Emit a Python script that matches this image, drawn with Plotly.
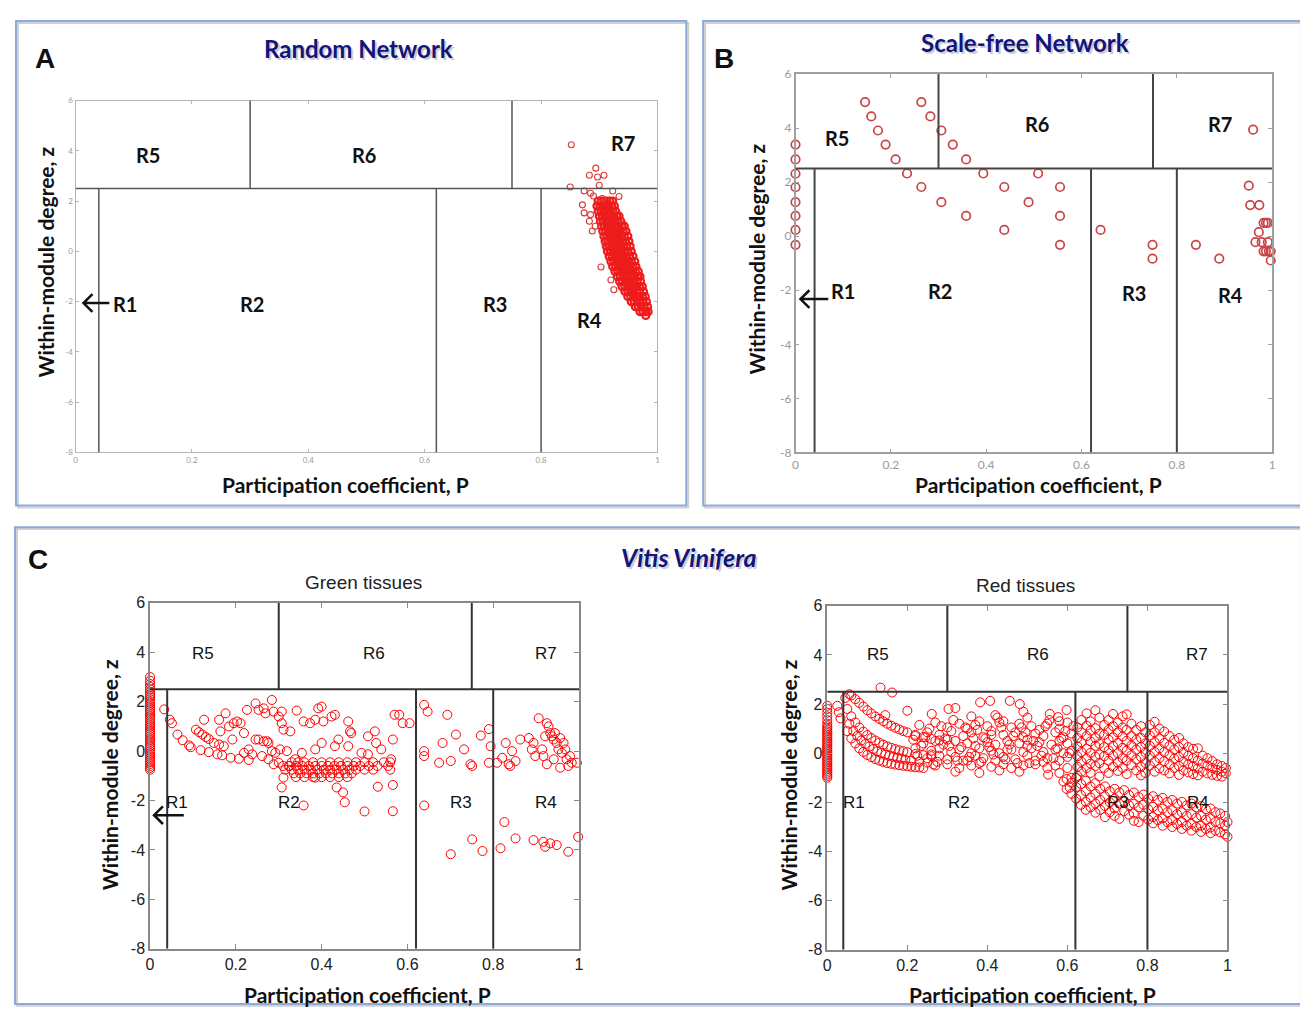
import plotly.graph_objects as go

OFF = 8                      # default page margin of the html body
FW, FH = 1308 - 2 * OFF, 1015 - 2 * OFF

# ---------------- DATA ----------------
tick_vals_x = [0, 0.2, 0.4, 0.6, 0.8, 1]
tick_text_x = ["0", "0.2", "0.4", "0.6", "0.8", "1"]
tick_vals_y = [-8, -6, -4, -2, 0, 2, 4, 6]
tick_text_y = ["-8", "-6", "-4", "-2", "0", "2", "4", "6"]

# role boundaries
z_hub = 2.5
p_nonhub = [0.04, 0.62, 0.8]
p_hub = [0.3, 0.75]

# Panel A: random network (dense band rows: z level, P values)
a_band = [
    (2.0, [0.898, 0.903, 0.908, 0.913, 0.918, 0.923]),
    (1.8, [0.896, 0.901, 0.906, 0.911, 0.916, 0.921, 0.926]),
    (1.6, [0.898, 0.903, 0.908, 0.913, 0.918, 0.923, 0.928]),
    (1.4, [0.9, 0.905, 0.91, 0.915, 0.92, 0.925, 0.93, 0.934]),
    (1.2, [0.902, 0.907, 0.912, 0.917, 0.922, 0.927, 0.932, 0.937]),
    (1.0, [0.904, 0.909, 0.914, 0.919, 0.924, 0.929, 0.934, 0.939, 0.943]),
    (0.8, [0.906, 0.911, 0.916, 0.921, 0.926, 0.931, 0.936, 0.941, 0.946]),
    (0.6, [0.908, 0.913, 0.918, 0.923, 0.928, 0.933, 0.938, 0.943, 0.949]),
    (0.4, [0.91, 0.915, 0.92, 0.925, 0.93, 0.935, 0.94, 0.945, 0.951]),
    (0.2, [0.912, 0.917, 0.922, 0.927, 0.932, 0.937, 0.942, 0.947, 0.953]),
    (0.0, [0.914, 0.919, 0.924, 0.929, 0.934, 0.939, 0.944, 0.949, 0.955]),
    (-0.2, [0.917, 0.922, 0.927, 0.932, 0.937, 0.942, 0.947, 0.952, 0.958]),
    (-0.4, [0.92, 0.925, 0.93, 0.935, 0.94, 0.945, 0.95, 0.955, 0.961]),
    (-0.6, [0.923, 0.928, 0.933, 0.938, 0.943, 0.948, 0.953, 0.958, 0.963]),
    (-0.8, [0.927, 0.932, 0.937, 0.942, 0.947, 0.952, 0.957, 0.962, 0.967]),
    (-1.0, [0.931, 0.936, 0.941, 0.946, 0.951, 0.956, 0.961, 0.966, 0.97]),
    (-1.2, [0.935, 0.94, 0.945, 0.95, 0.955, 0.96, 0.965, 0.971]),
    (-1.4, [0.939, 0.944, 0.949, 0.954, 0.959, 0.964, 0.969, 0.974]),
    (-1.6, [0.944, 0.949, 0.954, 0.959, 0.964, 0.969, 0.976]),
    (-1.8, [0.949, 0.954, 0.959, 0.964, 0.969, 0.974, 0.979]),
    (-2.0, [0.955, 0.96, 0.965, 0.97, 0.975, 0.981]),
    (-2.2, [0.962, 0.967, 0.972, 0.977, 0.983]),
    (-2.4, [0.97, 0.975, 0.98, 0.984]),
    (-2.55, [0.98]),
]
a_out_p = [0.852, 0.894, 0.883, 0.908, 0.897, 0.85, 0.874, 0.885, 0.9, 0.923, 0.934,
           0.871, 0.874, 0.885, 0.883, 0.888, 0.903, 0.92, 0.925, 0.89, 0.905, 0.893, 0.91]
a_out_z = [4.24, 3.31, 3.03, 3.03, 2.96, 2.56, 2.4, 2.31, 2.63, 2.4, 2.18,
           1.85, 1.53, 1.46, 1.2, 0.81, -0.62, -1.14, -1.53, 2.2, 2.1, 1.0, 0.3]

# Panel B: scale-free network
b_p = [0, 0, 0, 0, 0, 0, 0, 0,
       0.146, 0.159, 0.173, 0.189, 0.21, 0.234,
       0.264, 0.283, 0.306, 0.33, 0.358, 0.394,
       0.264, 0.306, 0.358, 0.438, 0.438, 0.489, 0.509, 0.555, 0.555, 0.555,
       0.64, 0.749, 0.749, 0.84, 0.889,
       0.96, 0.951, 0.954, 0.973, 0.982, 0.987, 0.991, 0.972, 0.965, 0.978, 0.991,
       0.982, 0.987, 0.993, 0.997, 0.997]
b_z = [3.39, 2.84, 2.31, 1.81, 1.26, 0.75, 0.23, -0.32,
       4.96, 4.43, 3.91, 3.39, 2.84, 2.32,
       4.96, 4.43, 3.91, 3.39, 2.84, 2.32,
       1.82, 1.26, 0.75, 1.82, 0.23, 1.26, 2.32, 1.82, 0.75, -0.32,
       0.23, -0.32, -0.83, -0.32, -0.83,
       3.94, 1.87, 1.15, 1.15, 0.49, 0.49, 0.49, 0.15, -0.22, -0.22, -0.22,
       -0.56, -0.56, -0.56, -0.56, -0.9]

# Panel C, green tissues
g_stack_z = [-0.75, -0.68, -0.6, -0.52, -0.45, -0.38, -0.3, -0.22, -0.15, -0.08, 0, 0.08, 0.15,
             0.22, 0.3, 0.38, 0.45, 0.52, 0.6, 0.68, 0.75, 0.82, 0.9, 0.98, 1.05, 1.12, 1.2, 1.28,
             1.35, 1.42, 1.5, 1.58, 1.65, 1.72, 1.8, 1.88, 1.95, 2.02, 2.1, 2.18, 2.25, 2.32, 2.4,
             2.5, 2.6, 2.72, 2.85, 3.0]
g_p = [0.033, 0.046, 0.051, 0.064, 0.076, 0.091, 0.095, 0.118, 0.137, 0.157, 0.168, 0.188, 0.207, 0.23,
       0.107, 0.114, 0.122, 0.13, 0.137, 0.149, 0.161, 0.126, 0.161, 0.176, 0.164, 0.184, 0.195, 0.203,
       0.211, 0.219, 0.226, 0.246, 0.253, 0.265, 0.269, 0.284, 0.288, 0.3, 0.307, 0.307, 0.311, 0.327,
       0.342, 0.358, 0.373, 0.385, 0.392, 0.4, 0.404, 0.423, 0.431, 0.462, 0.466, 0.469, 0.508, 0.524,
       0.527, 0.566, 0.57, 0.581, 0.589, 0.605,
       0.172, 0.192, 0.219, 0.23, 0.238, 0.246, 0.253, 0.265, 0.273, 0.276, 0.284, 0.292, 0.303, 0.319,
       0.261, 0.276, 0.288, 0.3, 0.323, 0.338, 0.354, 0.385, 0.4, 0.431, 0.439, 0.462, 0.493, 0.508,
       0.539, 0.562,
       0.307, 0.311, 0.358, 0.435, 0.45, 0.454, 0.5, 0.531, 0.566, 0.566, 0.385,
       0.639, 0.647, 0.639, 0.639, 0.674, 0.682, 0.693, 0.701, 0.713, 0.732, 0.747, 0.751, 0.771,
       0.79, 0.794, 0.79, 0.639, 0.701, 0.751, 0.775,
       0.809, 0.821, 0.829, 0.836, 0.84, 0.844, 0.852, 0.863, 0.883, 0.89, 0.894, 0.898, 0.906,
       0.914, 0.917, 0.921, 0.925, 0.929, 0.933, 0.937, 0.941, 0.944, 0.948, 0.952, 0.956, 0.96,
       0.964, 0.968, 0.971, 0.975, 0.979, 0.983, 0.995, 0.925, 0.941, 0.956,
       0.817, 0.826, 0.852, 0.894, 0.917, 0.921, 0.933, 0.948, 0.975, 0.998]
g_z = [1.69, 1.27, 1.13, 0.67, 0.44, 0.23, 0.16, 0.04, -0.04, -0.13, -0.17, -0.27, -0.31, -0.36,
       0.87, 0.77, 0.67, 0.57, 0.49, 0.33, 0.27, 1.27, 1.27, 1.53, 0.8, 1.0, 1.13, 1.2,
       1.13, 0.73, 1.67, 1.93, 1.67, 1.73, 1.53, 2.07, 1.6, 1.4, 1.6, 1.13, 0.87, 0.8,
       1.64, 1.2, 1.13, 1.27, 1.73, 1.8, 1.2, 1.4, 1.47, 1.2, 0.8, 0.73, 0.6, 0.8,
       0.33, 0.47, 1.47, 1.47, 1.13, 1.13,
       0.2, 0.47, -0.07, 0.07, -0.13, 0.47, 0.47, 0.4, 0.4, 0.33, 0.0, -0.07, 0.07, 0.0,
       -0.2, -0.33, -0.53, -0.47, -0.6, -0.33, -0.07, 0.07, 0.33, 0.2, 0.47, 0.2, -0.07, -0.13,
       0.07, -0.33,
       -1.47, -1.07, -2.2, -1.47, -1.67, -2.07, -2.44, -1.44, -1.37, -2.43, -1.07,
       1.87, 1.6, 0.0, -0.2, -0.47, 0.33, 1.47, -0.4, 0.67, 0.07, -0.53, -0.6, 0.63,
       0.89, 0.2, -0.47, -2.2, -4.17, -3.57, -4.04,
       -0.47, -0.27, 0.33, -0.53, -0.6, 0.0, -0.4, 0.47, 0.53, 0.07, 0.33, -0.2, 1.33,
       0.07, -0.2, 0.6, 1.13, 1.0, 0.73, 0.6, 0.47, 0.73, 0.33, 0.07, 0.53, -0.07,
       0.33, 0.07, -0.33, -0.6, -0.2, -0.47, -0.47, -0.53, -0.33, -0.67,
       -3.93, -2.87, -3.53, -3.6, -3.67, -3.87, -3.73, -3.8, -4.07, -3.47]
g_band = [
    (-0.45, [0.33, 0.345, 0.36, 0.38, 0.40, 0.42, 0.44, 0.46, 0.48, 0.50, 0.52, 0.545, 0.56]),
    (-0.6, [0.31, 0.325, 0.34, 0.355, 0.37, 0.385, 0.4, 0.415, 0.43, 0.445, 0.46, 0.475, 0.49, 0.51, 0.53, 0.555]),
    (-0.75, [0.315, 0.33, 0.345, 0.36, 0.375, 0.39, 0.405, 0.42, 0.435, 0.45, 0.465, 0.48, 0.5, 0.52, 0.56]),
    (-0.9, [0.335, 0.35, 0.365, 0.38, 0.395, 0.41, 0.425, 0.44, 0.455, 0.47]),
    (-1.05, [0.34, 0.36, 0.38, 0.4, 0.42, 0.44, 0.46]),
]

# Panel C, red tissues
r_stack_z = [-1.0, -0.93, -0.86, -0.79, -0.72, -0.65, -0.58, -0.51, -0.44, -0.37, -0.3, -0.23, -0.16,
             -0.09, -0.02, 0.05, 0.12, 0.19, 0.26, 0.33, 0.4, 0.47, 0.54, 0.61, 0.68, 0.75, 0.82,
             0.89, 0.96, 1.03, 1.1, 1.2, 1.35, 1.5, 1.65, 1.8, 1.93]
r_c1_p = [0.05, 0.06, 0.07, 0.08, 0.09, 0.10, 0.11, 0.12, 0.13, 0.14, 0.15, 0.16, 0.17, 0.18, 0.19, 0.2, 0.21, 0.22, 0.23, 0.24]
r_c1_z = [0.9, 0.6, 0.4, 0.2, 0.05, -0.07, -0.16, -0.24, -0.3, -0.35, -0.4, -0.43, -0.46, -0.49, -0.51, -0.53, -0.55, -0.57, -0.58, -0.6]
r_c2_p = [0.05, 0.06, 0.07, 0.08, 0.09, 0.1, 0.11, 0.12, 0.13, 0.14, 0.15, 0.16, 0.17, 0.18, 0.19, 0.2, 0.22, 0.24, 0.26]
r_c2_z = [1.8, 1.5, 1.25, 1.05, 0.88, 0.74, 0.62, 0.52, 0.43, 0.35, 0.28, 0.22, 0.17, 0.12, 0.08, 0.04, -0.03, -0.08, -0.12]
r_c3_p = [0.06, 0.07, 0.08, 0.09, 0.1, 0.11, 0.12, 0.13, 0.14, 0.15, 0.16, 0.17, 0.18, 0.19, 0.2, 0.22, 0.24, 0.26, 0.28]
r_c3_z = [2.35, 2.2, 2.05, 1.9, 1.75, 1.62, 1.5, 1.4, 1.3, 1.2, 1.12, 1.04, 0.97, 0.9, 0.85, 0.75, 0.66, 0.58, 0.52]
r_c4_p = [0.055, 0.065, 0.075, 0.085, 0.095, 0.105, 0.115, 0.125, 0.135, 0.145, 0.155, 0.165, 0.175, 0.185, 0.195, 0.21, 0.23, 0.25]
r_c4_z = [1.2, 0.9, 0.7, 0.52, 0.38, 0.27, 0.17, 0.08, 0.01, -0.05, -0.1, -0.15, -0.19, -0.22, -0.26, -0.3, -0.35, -0.38]
r_extra_p = [0.025, 0.029, 0.033, 0.045, 0.055, 0.133, 0.162, 0.2, 0.145]
r_extra_z = [1.93, 1.67, 1.42, 2.25, 2.4, 2.67, 2.47, 1.73, 1.55]
r_cloud_p = [0.261, 0.303, 0.32, 0.382, 0.407, 0.456, 0.481, 0.49, 0.556, 0.577, 0.598, 0.36, 0.42, 0.44, 0.5,
             0.23, 0.27, 0.3, 0.33, 0.35, 0.38, 0.4, 0.43, 0.46, 0.48, 0.51, 0.53, 0.55, 0.58, 0.6, 0.615,
             0.22, 0.25, 0.28, 0.31, 0.34, 0.36, 0.39, 0.41, 0.44, 0.47, 0.49, 0.52, 0.54, 0.57, 0.59, 0.61,
             0.24, 0.27, 0.29, 0.32, 0.35, 0.37, 0.4, 0.42, 0.45, 0.48, 0.5, 0.53, 0.56, 0.58, 0.6,
             0.26, 0.28, 0.31, 0.33, 0.36, 0.38, 0.41, 0.43, 0.46, 0.49, 0.51, 0.54, 0.57, 0.59, 0.61,
             0.25, 0.28, 0.3, 0.32, 0.35, 0.37, 0.39, 0.42, 0.44, 0.47, 0.5, 0.52, 0.55, 0.58, 0.6,
             0.27, 0.3, 0.33, 0.36, 0.38, 0.41, 0.44, 0.46, 0.49, 0.52, 0.55, 0.57, 0.6,
             0.32, 0.38, 0.43, 0.48, 0.552, 0.58, 0.606, 0.61, 0.59]
r_cloud_z = [1.6, 1.8, 1.84, 2.07, 2.13, 2.13, 2.0, 1.69, 1.6, 1.47, 1.76, 1.5, 1.55, 1.3, 1.45,
             1.15, 1.25, 1.05, 1.2, 1.0, 1.3, 1.1, 1.25, 1.05, 1.2, 1.1, 0.95, 1.2, 1.0, 1.25, 1.1,
             0.7, 0.85, 0.75, 0.9, 0.7, 0.85, 0.65, 0.9, 0.75, 0.85, 0.65, 0.8, 0.7, 0.85, 0.65, 0.8,
             0.4, 0.5, 0.35, 0.5, 0.4, 0.3, 0.45, 0.35, 0.5, 0.4, 0.3, 0.45, 0.35, 0.5, 0.4,
             0.1, 0.2, 0.05, 0.15, 0.0, 0.2, 0.1, 0.0, 0.15, 0.05, 0.2, 0.05, 0.15, 0.0, 0.1,
             -0.2, -0.1, -0.25, -0.15, -0.3, -0.1, -0.2, -0.3, -0.15, -0.25, -0.1, -0.3, -0.2, -0.3, -0.15,
             -0.5, -0.45, -0.6, -0.5, -0.4, -0.55, -0.45, -0.6, -0.5, -0.45, -0.6, -0.5, -0.6,
             -0.75, -0.8, -0.7, -0.75, -0.87, -0.8, -1.4, -1.0, -1.15]
r_cloud2_p = [0.215, 0.235, 0.255, 0.275, 0.295, 0.315, 0.335, 0.355, 0.375, 0.395, 0.415, 0.435, 0.455,
              0.475, 0.495, 0.515, 0.535, 0.555, 0.575, 0.595,
              0.225, 0.245, 0.265, 0.285, 0.305, 0.325, 0.345, 0.365, 0.385, 0.405, 0.425, 0.445, 0.465,
              0.485, 0.505, 0.525, 0.545, 0.565, 0.585, 0.605,
              0.22, 0.26, 0.3, 0.34, 0.37, 0.41, 0.45, 0.5, 0.54, 0.58]
r_cloud2_z = [0.55, 0.3, 1.0, -0.35, 0.6, 1.35, 0.25, -0.15, 0.95, 0.6, -0.05, 1.05, 0.35,
              -0.4, 0.85, 0.5, -0.1, 1.35, 0.2, 0.9,
              -0.1, 0.65, -0.45, 1.1, 0.3, -0.3, 1.05, 0.6, -0.35, 0.25, 1.45, -0.25, 0.7,
              1.05, -0.4, 0.3, 1.1, -0.2, 0.6, 0.0,
              0.2, -0.05, 0.55, -0.3, 1.15, 0.75, 0.15, 0.55, -0.35, 1.3]
r_upper_cols = [
    (0.625, [1.05, 0.62, 0.28, -0.12, -0.55, -0.92]),
    (0.635, [1.35, 0.85, 0.45, 0.05, -0.35, -0.75]),
    (0.648, [1.62, 1.12, 0.7, 0.18, -0.22, -0.6]),
    (0.658, [1.3, 0.92, 0.48, 0.02, -0.42, -0.8]),
    (0.67, [1.75, 1.02, 0.62, 0.3, -0.15, -0.52]),
    (0.68, [1.45, 0.8, 0.38, -0.05, -0.4, -0.95]),
    (0.692, [1.15, 0.75, 0.25, -0.12, -0.6]),
    (0.703, [1.35, 0.95, 0.55, 0.12, -0.3, -0.8]),
    (0.714, [1.6, 1.1, 0.65, 0.3, -0.1, -0.55]),
    (0.726, [1.25, 0.85, 0.42, 0.0, -0.38, -0.72]),
    (0.738, [1.5, 1.05, 0.68, 0.22, -0.2, -0.6]),
    (0.748, [1.58, 0.95, 0.5, 0.1, -0.3, -0.85]),
    (0.76, [1.2, 0.7, 0.32, -0.08, -0.48]),
    (0.772, [0.95, 0.55, 0.15, -0.25, -0.7]),
    (0.784, [1.1, 0.62, 0.25, -0.15, -0.55, -0.9]),
    (0.795, [0.85, 0.4, 0.02, -0.4, -0.8]),
    (0.806, [1.15, 0.72, 0.3, -0.1, -0.5]),
    (0.818, [1.28, 0.85, 0.45, 0.05, -0.35, -0.75]),
    (0.83, [1.0, 0.6, 0.2, -0.2, -0.62]),
    (0.842, [0.88, 0.42, 0.05, -0.32, -0.7]),
    (0.855, [0.7, 0.3, -0.08, -0.45, -0.82]),
    (0.867, [0.55, 0.15, -0.22, -0.6]),
    (0.879, [0.62, 0.25, -0.15, -0.52, -0.88]),
    (0.89, [0.4, 0.02, -0.35, -0.7]),
    (0.902, [0.25, -0.1, -0.45, -0.78]),
    (0.914, [0.18, -0.2, -0.52, -0.85]),
    (0.926, [0.2, -0.3, -0.62, -0.9]),
    (0.938, [-0.1, -0.42, -0.75]),
    (0.95, [-0.2, -0.5, -0.82]),
    (0.962, [-0.32, -0.6, -0.88]),
    (0.974, [-0.45, -0.68, -0.92]),
    (0.986, [-0.52, -0.75, -0.95]),
    (0.996, [-0.6, -0.82]),
]
r_lower_cols = [
    (0.598, [-1.05, -1.45]),
    (0.61, [-1.2, -1.65]),
    (0.622, [-1.0, -1.38, -1.85]),
    (0.634, [-1.25, -1.7, -2.1]),
    (0.646, [-1.12, -1.55, -1.98, -2.3]),
    (0.658, [-1.35, -1.8, -2.2]),
    (0.67, [-1.22, -1.65, -2.05, -2.42]),
    (0.682, [-1.45, -1.9, -2.3]),
    (0.694, [-1.35, -1.75, -2.15, -2.6]),
    (0.706, [-1.55, -2.0, -2.4]),
    (0.718, [-1.45, -1.85, -2.25, -2.55]),
    (0.73, [-1.6, -2.05, -2.67]),
    (0.742, [-1.5, -1.95, -2.35]),
    (0.754, [-1.7, -2.12, -2.5]),
    (0.766, [-1.6, -2.05, -2.45, -2.75]),
    (0.778, [-1.78, -2.2, -2.8]),
    (0.79, [-1.68, -2.1, -2.55]),
    (0.802, [-1.85, -2.28, -2.7]),
    (0.814, [-1.75, -2.18, -2.6, -2.85]),
    (0.826, [-1.9, -2.32, -2.72]),
    (0.838, [-1.82, -2.25, -2.65, -2.95]),
    (0.85, [-1.98, -2.4, -2.8]),
    (0.862, [-1.9, -2.32, -2.72, -3.0]),
    (0.874, [-2.05, -2.48, -2.88]),
    (0.886, [-1.98, -2.4, -2.8, -3.08]),
    (0.898, [-2.12, -2.55, -2.95]),
    (0.91, [-2.05, -2.48, -2.88, -3.15]),
    (0.922, [-2.2, -2.62, -3.0]),
    (0.934, [-2.15, -2.55, -2.95, -3.2]),
    (0.946, [-2.28, -2.7, -3.08]),
    (0.958, [-2.25, -2.65, -3.02, -3.25]),
    (0.97, [-2.4, -2.8, -3.15]),
    (0.982, [-2.45, -2.85, -3.22]),
    (0.994, [-2.55, -2.95, -3.3]),
    (1.0, [-2.8, -3.4]),
]

# region label positions (P, z) per panel
reg_names = ["R1", "R2", "R3", "R4", "R5", "R6", "R7"]
a_lab_p = [0.085, 0.303, 0.721, 0.884, 0.125, 0.496, 0.94]
a_lab_z = [-2.1, -2.1, -2.1, -2.72, 3.85, 3.85, 4.32]
b_lab_p = [0.1, 0.304, 0.71, 0.9125, 0.0875, 0.506, 0.89]
b_lab_z = [-2.04, -2.04, -2.1, -2.18, 3.64, 4.15, 4.15]
g_lab_p = [0.063, 0.325, 0.724, 0.923, 0.123, 0.522, 0.923]
g_lab_z = [-2.08, -2.08, -2.08, -2.08, 3.96, 3.96, 3.96]
r_lab_p = [0.067, 0.328, 0.727, 0.926, 0.127, 0.526, 0.923]
r_lab_z = [-2.0, -2.0, -2.0, -2.0, 4.0, 4.0, 4.0]

# ---------------- BUILD ----------------
def flat_rows(rows):
    ps, zs = [], []
    for z, plist in rows:
        for p in plist:
            ps.append(p); zs.append(z)
    return ps, zs

def flat_cols(cols):
    ps, zs = [], []
    for p, zlist in cols:
        for z in zlist:
            ps.append(p); zs.append(z)
    return ps, zs

ab_p, ab_z = flat_rows(a_band)

gp_b, gz_b = flat_rows(g_band)
gp = [0] * len(g_stack_z) + g_p + gp_b
gz = g_stack_z + g_z + gz_b

rup_p, rup_z = flat_cols(r_upper_cols)
rlo_p, rlo_z = flat_cols(r_lower_cols)
rp = ([0] * len(r_stack_z) + r_c1_p + r_c2_p + r_c3_p + r_c4_p + r_extra_p + r_cloud_p + r_cloud2_p
      + rup_p + rlo_p)
rz = r_stack_z + r_c1_z + r_c2_z + r_c3_z + r_c4_z + r_extra_z + r_cloud_z + r_cloud2_z + rup_z + rlo_z

fig = go.Figure()

def marker(color, size, lw):
    return dict(symbol="circle-open", color=color, size=size, line=dict(color=color, width=lw))

def add(px_, pz_, xa, ya, mk):
    fig.add_trace(go.Scatter(x=px_, y=pz_, mode="markers", xaxis=xa, yaxis=ya, marker=mk,
                             cliponaxis=False, showlegend=False, hoverinfo="skip"))

add(ab_p, ab_z, "x", "y", marker("#ee1c1c", 7, 2.2))
add(a_out_p, a_out_z, "x", "y", marker("#dd3a3a", 6, 1.1))
add(b_p, b_z, "x2", "y2", marker("#c94444", 8.5, 1.7))
add(gp, gz, "x3", "y3", marker("#ff0000", 9, 1.0))
add(rp, rz, "x4", "y4", marker("#ff0000", 9, 1.0))

def fx(X):
    return (X - OFF) / FW

def fy(Y):
    return 1 - (Y - OFF) / FH

# panel pixel boxes (page pixels)
panels = [
    ("x", "y", (72, 658), (94, 452), dict(size=8, color="#9a9a9a", family="Lato"), "#b5b5b5", 1, 3, "#555", 1.5),
    ("x2", "y2", (797, 1277), (67, 452), dict(size=12, color="#9a9a9a", family="Lato"), "#a0a0a0", 1.5, 4, "#444", 2),
    ("x3", "y3", (147, 579), (605, 957), dict(size=16, color="#222", family="Liberation Sans"), "#888", 1.5, 5, "#333", 2),
    ("x4", "y4", (829, 1232), (608, 958), dict(size=16, color="#222", family="Liberation Sans"), "#888", 1.5, 5, "#333", 2),
]

layout = dict(width=FW, height=FH, margin=dict(l=0, r=0, t=0, b=0),
              paper_bgcolor="white", plot_bgcolor="white", showlegend=False)
shapes = []
annotations = []

for xa, ya, xd, yd, tf, lc, lw, tl, rc, rw in panels:
    xkey = "xaxis" + xa[1:]
    ykey = "yaxis" + ya[1:]
    layout[xkey] = dict(domain=[fx(xd[0]), fx(xd[1])], range=[0, 1], anchor=ya,
                        tickvals=tick_vals_x, ticktext=tick_text_x, tickfont=tf,
                        ticks="inside", ticklen=tl, tickcolor=lc, showline=True, linecolor=lc,
                        linewidth=lw, mirror="ticks", showgrid=False, zeroline=False, fixedrange=True)
    layout[ykey] = dict(domain=[fy(yd[1]), fy(yd[0])], range=[-8, 6], anchor=xa,
                        tickvals=tick_vals_y, ticktext=tick_text_y, tickfont=tf,
                        ticks="inside", ticklen=tl, tickcolor=lc, showline=True, linecolor=lc,
                        linewidth=lw, mirror="ticks", showgrid=False, zeroline=False, fixedrange=True)
    ln = dict(color=rc, width=rw)
    shapes.append(dict(type="line", xref=xa, yref=ya, x0=0, x1=1, y0=z_hub, y1=z_hub, line=ln))
    for p in p_nonhub:
        shapes.append(dict(type="line", xref=xa, yref=ya, x0=p, x1=p, y0=-8, y1=z_hub, line=ln))
    for p in p_hub:
        shapes.append(dict(type="line", xref=xa, yref=ya, x0=p, x1=p, y0=z_hub, y1=6, line=ln))

# panel frames (with soft shadow)
def frame(x0, y0, x1, y1):
    shapes.append(dict(type="rect", xref="paper", yref="paper", x0=fx(x0 + 2), x1=fx(x1 + 2),
                       y0=fy(y1 + 2), y1=fy(y0 + 2),
                       line=dict(color="rgba(150,150,150,0.45)", width=2), layer="below"))
    shapes.append(dict(type="rect", xref="paper", yref="paper", x0=fx(x0), x1=fx(x1),
                       y0=fy(y1), y1=fy(y0), line=dict(color="#8eaadb", width=2), layer="below"))

frame(12, 13, 687, 506)
frame(704, 13, 1306, 506)
frame(11, 528, 1306, 1013)

# arrows pointing at R1 (line + open chevron)
def arrow(hx, hy, length, head=9):
    path = ("M %f %f L %f %f M %f %f L %f %f L %f %f" %
            (fx(hx + length), fy(hy), fx(hx), fy(hy),
             fx(hx + head), fy(hy - head), fx(hx), fy(hy), fx(hx + head), fy(hy + head)))
    shapes.append(dict(type="path", xref="paper", yref="paper", path=path,
                       line=dict(color="#111", width=2.5)))

arrow(80, 300, 26)
arrow(802, 296, 28)
arrow(151, 821, 30)

def ann(text, x, y, size, color="black", family="Lato", angle=0):
    annotations.append(dict(text=text, x=fx(x), y=fy(y), xref="paper", yref="paper",
                            showarrow=False, font=dict(size=size, color=color, family=family),
                            textangle=angle, xanchor="center", yanchor="middle"))

def title(text, x, y, size):
    ann(text, x + 2, y + 2, size, "rgba(110,110,130,0.35)")
    ann(text, x, y, size, "#14147a")

# panel letters
ann("<b>A</b>", 41, 51, 28, "#111", "Liberation Sans")
ann("<b>B</b>", 725, 51, 28, "#111", "Liberation Sans")
ann("<b>C</b>", 34, 561, 28, "#111", "Liberation Sans")

title("<b>Random Network</b>", 357, 41, 24)
title("<b>Scale-free Network</b>", 1028, 35, 24)
title("<b><i>Vitis Vinifera</i></b>", 690, 558, 25)

ann("Green tissues", 362, 584, 19, "#222", "Liberation Sans")
ann("Red tissues", 1029, 587, 19, "#222", "Liberation Sans")

xt = "<b>Participation coefficient, P</b>"
yt = "<b>Within-module degree, z</b>"
for x, y in [(344, 485), (1042, 485), (366, 1003), (1036, 1003)]:
    ann(xt, x, y, 21, "#111")
for x, y in [(42, 258), (758, 255), (107, 780), (790, 780)]:
    ann(yt, x, y, 21, "#111", angle=-90)

# region labels
for xa, ya, lp, lz, bold, fam, size in [
    ("x", "y", a_lab_p, a_lab_z, True, "Lato", 20),
    ("x2", "y2", b_lab_p, b_lab_z, True, "Lato", 20),
    ("x3", "y3", g_lab_p, g_lab_z, False, "Liberation Sans", 17),
    ("x4", "y4", r_lab_p, r_lab_z, False, "Liberation Sans", 17),
]:
    for name, p, z in zip(reg_names, lp, lz):
        annotations.append(dict(text=("<b>%s</b>" % name) if bold else name, x=p, y=z,
                                xref=xa, yref=ya, showarrow=False,
                                font=dict(size=size, color="#111", family=fam)))

layout["shapes"] = shapes
layout["annotations"] = annotations
fig.update_layout(**layout)

fig.write_html("out.html", config={"displayModeBar": False})
